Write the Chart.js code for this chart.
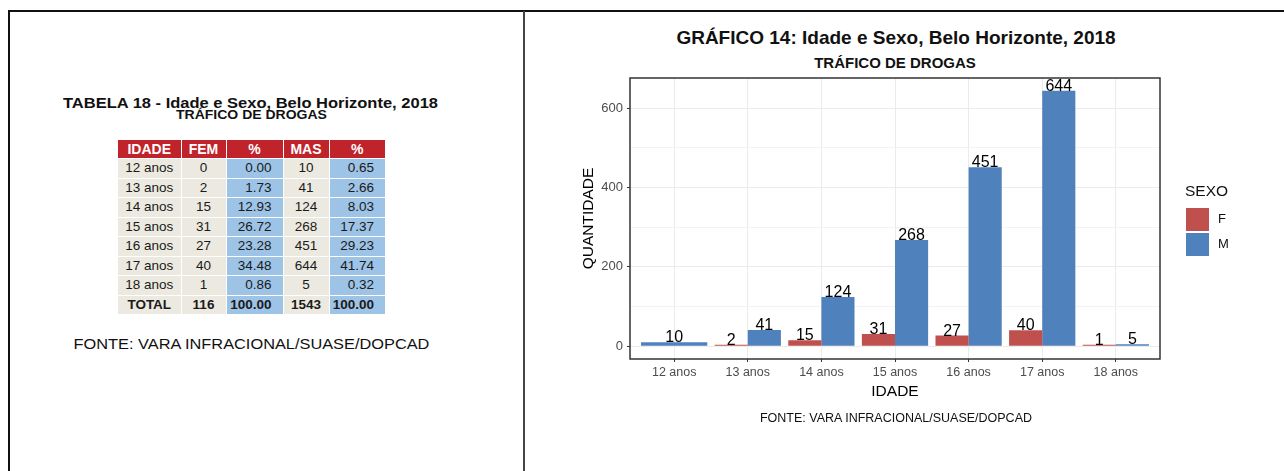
<!DOCTYPE html>
<html>
<head>
<meta charset="utf-8">
<script src="https://cdn.jsdelivr.net/npm/chart.js@4.4.1/dist/chart.umd.min.js"></script>
<style>
  html, body { margin: 0; padding: 0; background: #fff; width: 1284px; height: 471px; overflow: hidden;
    font-family: "Liberation Sans", Arial, sans-serif; color: #111; }
  #frame { position: absolute; left: 8px; top: 10px; width: 1300px; height: 480px;
    border-top: 2px solid #111; border-left: 2px solid #111; }
  #divider { position: absolute; left: 523px; top: 11px; width: 2px; height: 470px; background: #444; }
  .txt { position: absolute; white-space: nowrap; text-align: center; }
  #tabTitle { left: 0; width: 501px; top: 94.5px; font: bold 15px/15px "Liberation Sans", Arial, sans-serif; transform: scaleX(1.1); }
  #tabSub { left: 0; width: 503px; top: 108.6px; font: bold 12.5px/12.5px "Liberation Sans", Arial, sans-serif; transform: scaleX(1.12); }
  #tabFonte { left: 0; width: 503px; top: 335.5px; font: 15px/15px "Liberation Sans", Arial, sans-serif; transform: scaleX(1.09); }
  #tab { position: absolute; left: 118px; top: 140px; width: 267px; table-layout: fixed;
    border-collapse: collapse; font: 13.5px "Liberation Sans", Arial, sans-serif; color: #1a1a1a; }
  #tab td { padding: 0; height: 18.5px; line-height: 18px; border: 1.5px solid #fff; background: #ECEAE0; text-align: center; }
  #tab tr:first-child td { background: #C1232B; color: #fff; font-weight: bold; font-size: 14px; height: 18px; border-top: none; }
  #tab tr:last-child td { font-weight: bold; }
  #tab td.pct { background: #9DC3E6; text-align: right; padding-right: 11px; }
  #tab tr:first-child td.pct { background: #C1232B; text-align: center; padding-right: 0; }
  #tab tr td:first-child { border-left: none; }
  #tab tr td:last-child { border-right: none; }
  #chartTitle { left: 596px; width: 600px; top: 28px; font: bold 19px/20px "Liberation Sans", Arial, sans-serif; }
  #chartSub { left: 595px; width: 600px; top: 55px; font: bold 15px/16px "Liberation Sans", Arial, sans-serif; }
  #chartFonte { left: 696px; width: 400px; top: 411px; font: 12.5px/14px "Liberation Sans", Arial, sans-serif; }
  #legTitle { left: 1185px; top: 182px; font: 15.5px/17px "Liberation Sans", Arial, sans-serif; text-align: left; }
  .key { position: absolute; left: 1186px; width: 23px; height: 23px; }
  .keyLab { position: absolute; left: 1218px; font: 13px/14px "Liberation Sans", Arial, sans-serif; }
  #chartBox { position: absolute; left: 526px; top: 12px; width: 758px; height: 459px; }
</style>
</head>
<body>
<div id="frame"></div>
<div id="divider"></div>

<div class="txt" id="tabTitle">TABELA 18 - Idade e Sexo, Belo Horizonte, 2018</div>
<div class="txt" id="tabSub">TRÁFICO DE DROGAS</div>
<table id="tab"></table>
<div class="txt" id="tabFonte">FONTE: VARA INFRACIONAL/SUASE/DOPCAD</div>

<div class="txt" id="chartTitle">GRÁFICO 14: Idade e Sexo, Belo Horizonte, 2018</div>
<div class="txt" id="chartSub">TRÁFICO DE DROGAS</div>
<div id="chartBox"><canvas id="myChart"></canvas></div>
<div class="txt" id="legTitle">SEXO</div>
<div class="key" style="top:208px;background:#C0504D"></div>
<div class="keyLab" style="top:212px">F</div>
<div class="key" style="top:233px;background:#4F81BD"></div>
<div class="keyLab" style="top:237px">M</div>
<div class="txt" id="chartFonte">FONTE: VARA INFRACIONAL/SUASE/DOPCAD</div>

<script>
const idades = ['12 anos', '13 anos', '14 anos', '15 anos', '16 anos', '17 anos', '18 anos'];
const fem = [0, 2, 15, 31, 27, 40, 1];
const femPct = [0.00, 1.73, 12.93, 26.72, 23.28, 34.48, 0.86];
const mas = [10, 41, 124, 268, 451, 644, 5];
const masPct = [0.65, 2.66, 8.03, 17.37, 29.23, 41.74, 0.32];
const totalFem = 116;
const totalMas = 1543;
const headers = ['IDADE', 'FEM', '%', 'MAS', '%'];
const yGrid = [0, 100, 200, 300, 400, 500, 600];
const yLabels = [0, 200, 400, 600];

// table on the left
let tab = document.getElementById('tab');
let colW = [63, 45, 57, 46, 56];
let html = '<colgroup>' + colW.map((w) => '<col style="width:' + w + 'px">').join('') + '</colgroup>';
html += '<tr>' + headers.map((h, i) => '<td' + (h === '%' ? ' class="pct"' : '') + '>' + h + '</td>').join('') + '</tr>';
idades.forEach(function (idade, i) {
  html += '<tr><td>' + idade + '</td><td>' + fem[i] + '</td><td class="pct">' + femPct[i].toFixed(2) +
    '</td><td>' + mas[i] + '</td><td class="pct">' + masPct[i].toFixed(2) + '</td></tr>';
});
html += '<tr><td>TOTAL</td><td>' + totalFem + '</td><td class="pct">100.00</td><td>' + totalMas +
  '</td><td class="pct">100.00</td></tr>';
tab.innerHTML = html;

// chart
Chart.defaults.font.family = "'Liberation Sans', Arial, sans-serif";

// ggplot drops the zero row, so the M bar fills the whole slot
let femBars = fem.map((v, i) => ({ x: i, y: v === 0 ? null : v }));
let masBars = mas.map((v, i) => ({ x: i, y: v }));
let yPad = 0.05 * Math.max(...mas);

const barLabels = {
  id: 'barLabels',
  afterDatasetsDraw(chart) {
    let ctx = chart.ctx;
    ctx.save();
    ctx.font = "16px 'Liberation Sans', Arial, sans-serif";
    ctx.fillStyle = '#000';
    ctx.textAlign = 'center';
    ctx.textBaseline = 'alphabetic';
    chart.data.datasets.forEach(function (ds, i) {
      chart.getDatasetMeta(i).data.forEach(function (bar, j) {
        let v = ds.data[j].y;
        if (v === null) return;
        ctx.fillText(String(v), bar.x, bar.y);
      });
    });
    ctx.restore();
  }
};

const panelBorder = {
  id: 'panelBorder',
  afterDraw(chart) {
    let a = chart.chartArea;
    let ctx = chart.ctx;
    ctx.save();
    ctx.strokeStyle = '#333';
    ctx.lineWidth = 1.5;
    ctx.strokeRect(a.left, a.top, a.right - a.left, a.bottom - a.top);
    ctx.restore();
  }
};

let myChart = document.getElementById('myChart').getContext('2d');
let chart = new Chart(myChart, {
  type: 'bar',
  data: {
    datasets: [
      { label: 'F', data: femBars, backgroundColor: '#C0504D', skipNull: true },
      { label: 'M', data: masBars, backgroundColor: '#4F81BD', skipNull: true },
    ],
  },
  options: {
    responsive: true,
    maintainAspectRatio: false,
    animation: false,
    layout: { padding: { left: 0, top: 66, right: 124, bottom: 52 } },
    datasets: { bar: { barPercentage: 1, categoryPercentage: 0.9, borderWidth: 0, skipNull: true, minBarLength: 1.6 } },
    plugins: { legend: { display: false }, tooltip: { enabled: false } },
    scales: {
      x: {
        type: 'linear',
        min: -0.6,
        max: idades.length - 0.4,
        offset: false,
        afterBuildTicks: (axis) => { axis.ticks = idades.map((_, i) => ({ value: i })); },
        afterFit: (axis) => { axis.height = 60; },
        grid: { offset: false, color: '#EBEBEB', lineWidth: 1, tickColor: '#333', tickLength: 3, tickWidth: 1 },
        border: { display: false },
        ticks: {
          callback: (v) => idades[v] || '',
          color: '#4D4D4D',
          font: { size: 12.5 },
          padding: 3,
          maxRotation: 0,
          autoSkip: false,
        },
        title: { display: true, text: 'IDADE', color: '#000', font: { size: 15.5 }, padding: { top: 0, bottom: 17.7 } },
      },
      y: {
        min: -yPad,
        max: Math.max(...mas) + yPad,
        afterBuildTicks: (axis) => { axis.ticks = yGrid.map((v) => ({ value: v })); },
        afterFit: (axis) => { axis.width = 104; },
        grid: {
          color: (c) => (yLabels.includes(c.tick.value) ? '#EBEBEB' : '#F3F3F3'),
          lineWidth: 1,
          tickColor: (c) => (yLabels.includes(c.tick.value) ? '#333' : 'rgba(0,0,0,0)'),
          tickLength: 3,
          tickWidth: 1,
        },
        border: { display: false },
        ticks: {
          callback: (v) => (yLabels.includes(v) ? String(v) : ''),
          color: '#4D4D4D',
          font: { size: 13 },
          padding: 4,
          autoSkip: false,
        },
        title: { display: true, text: 'QUANTIDADE', color: '#000', font: { size: 15.5 }, padding: { top: 53.7, bottom: 0 } },
      },
    },
  },
  plugins: [barLabels, panelBorder],
});
</script>
</body>
</html>
